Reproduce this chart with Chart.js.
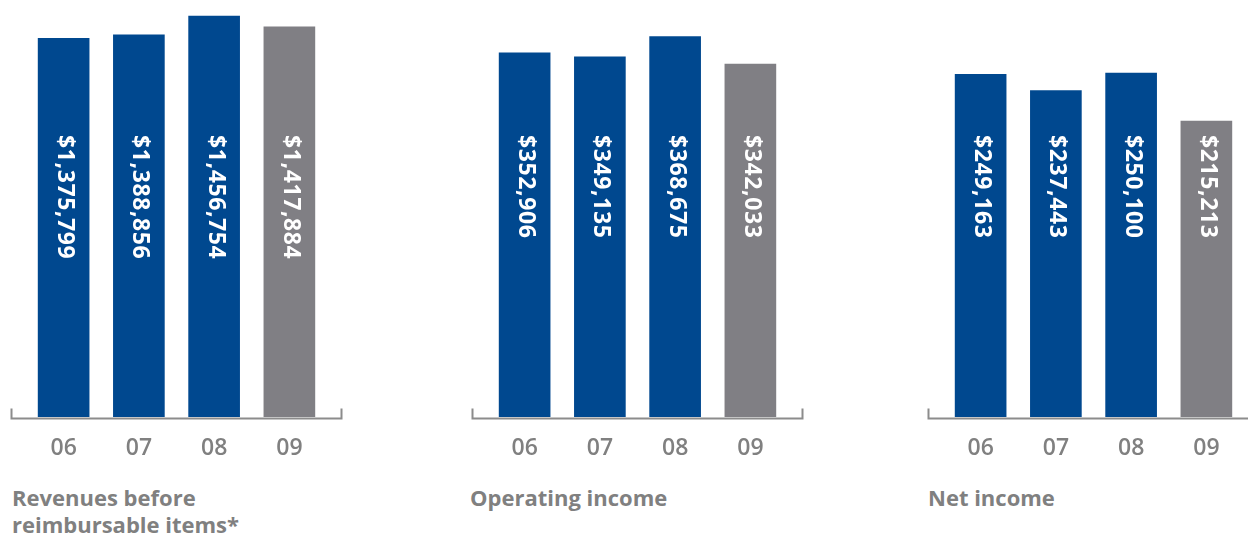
<!DOCTYPE html>
<html>
<head>
<meta charset="utf-8">
<script src="https://cdn.jsdelivr.net/npm/chart.js@4.4.0/dist/chart.umd.min.js"></script>
<style>
  html, body { margin: 0; padding: 0; background: #fff; }
  body { position: relative; width: 1248px; height: 537px; overflow: hidden; font-family: "Open Sans", sans-serif; }
  canvas { position: absolute; top: 0; }
  .cap { position: absolute; top: 484px; font-size: 22px; font-weight: 700; line-height: 27px; color: #808080; white-space: nowrap; }
</style>
</head>
<body>
<canvas id="c0" width="360" height="480" style="left:0px"></canvas>
<canvas id="c1" width="360" height="480" style="left:461px"></canvas>
<canvas id="c2" width="360" height="480" style="left:917px"></canvas>
<div class="cap" id="t0" style="left:12px"></div>
<div class="cap" id="t1" style="left:470px"></div>
<div class="cap" id="t2" style="left:928px"></div>
<script>
// --- data ---
const years = ['06', '07', '08', '09'];
const revenues = [1375799, 1388856, 1456754, 1417884];
const operatingIncome = [352906, 349135, 368675, 342033];
const netIncome = [249163, 237443, 250100, 215213];
const titles = [['Revenues before', 'reimbursable items*'], ['Operating income'], ['Net income']];
const scaleMax = [1515500, 404200, 303300];

const BLUE = '#00488f';
const GRAY = '#807f84';
const barColors = [BLUE, BLUE, BLUE, GRAY];

const fmt = v => '$' + String(v).replace(/\B(?=(\d{3})+(?!\d))/g, ',');

// value labels rotated inside bars + bracket-style baseline
const panelDecor = {
    id: 'panelDecor',
    afterDatasetsDraw(chart) {
        const { ctx, chartArea: a } = chart;
        const vals = chart.data.datasets[0].data;
        ctx.save();
        ctx.fillStyle = '#fff';
        ctx.font = 'bold 23px "Open Sans"';
        ctx.letterSpacing = '0.6px';
        ctx.textAlign = 'left';
        ctx.textBaseline = 'middle';
        chart.getDatasetMeta(0).data.forEach((bar, i) => {
            ctx.save();
            ctx.translate(bar.x + 1, 135);
            ctx.rotate(Math.PI / 2);
            ctx.fillText(fmt(vals[i]), 0, 0);
            ctx.restore();
        });
        const y = a.bottom + 1.5;
        ctx.strokeStyle = '#8c8c8c';
        ctx.lineWidth = 2;
        ctx.beginPath();
        ctx.moveTo(a.left - 14.5, y - 10);
        ctx.lineTo(a.left - 14.5, y);
        ctx.lineTo(a.right + 14.5, y);
        ctx.lineTo(a.right + 14.5, y - 10);
        ctx.stroke();
        ctx.restore();
    }
};

function makePanel(idx, values) {
    new Chart(document.getElementById('c' + idx), {
        type: 'bar',
        data: { labels: years, datasets: [{ data: values, backgroundColor: barColors, barThickness: 51 }] },
        options: {
            responsive: false, animation: false,
            layout: { padding: { left: 26, right: 33, top: 0, bottom: 0 } },
            plugins: { legend: { display: false }, tooltip: { enabled: false } },
            scales: {
                y: { display: false, min: 0, max: scaleMax[idx] },
                x: {
                    grid: { display: false, drawTicks: false }, border: { display: false },
                    ticks: { color: '#808080', padding: 20, font: { family: 'Open Sans', size: 23, weight: '600', lineHeight: 1 } }
                }
            }
        },
        plugins: [panelDecor]
    });
    document.getElementById('t' + idx).innerHTML = titles[idx].join('<br>');
}

makePanel(0, revenues);
makePanel(1, operatingIncome);
makePanel(2, netIncome);
</script>
</body>
</html>
